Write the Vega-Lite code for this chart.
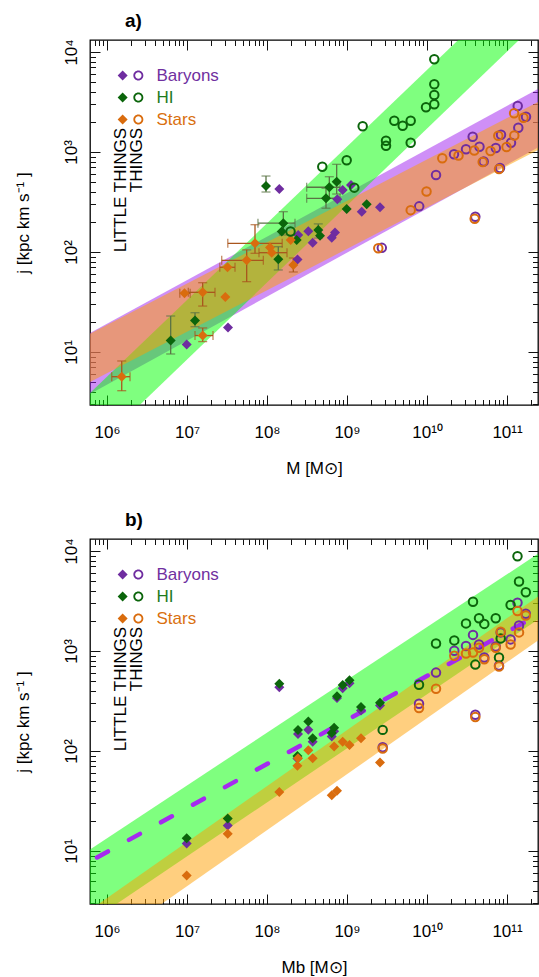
{
"$schema": "https://vega.github.io/schema/vega-lite/v6.json",
"autosize": "none",
"padding": {"left": 90, "top": 40, "right": 449, "bottom": 937},
"background": "white",
"config": {
  "font": "Liberation Sans",
  "view": {"stroke": "#000", "strokeWidth": 1.3},
  "axis": {"domain": false, "grid": false, "tickColor": "#111", "tickWidth": 1, "labelColor": "#000", "titleColor": "#000", "labelFont": "Liberation Sans", "titleFont": "Liberation Sans"}
},
"spacing": 134,
"bounds": "flush",
"resolve": {"scale": {"color": "independent"}},
"datasets": {
  "A": [
    {"comp":"Baryons","kind":"LT","M":1.426e8,"j":427},
    {"comp":"Baryons","kind":"LT","M":8.831e8,"j":417},
    {"comp":"Baryons","kind":"LT","M":1.122e9,"j":468},
    {"comp":"Baryons","kind":"LT","M":7.568e8,"j":337},
    {"comp":"Baryons","kind":"LT","M":1.528e9,"j":253},
    {"comp":"Baryons","kind":"LT","M":2.585e9,"j":280},
    {"comp":"Baryons","kind":"LT","M":3.281e8,"j":161},
    {"comp":"Baryons","kind":"LT","M":3.724e8,"j":124},
    {"comp":"Baryons","kind":"LT","M":7.079e8,"j":157},
    {"comp":"Baryons","kind":"LT","M":6.442e8,"j":139},
    {"comp":"Baryons","kind":"LT","M":2.404e8,"j":84.1},
    {"comp":"Baryons","kind":"LT","M":3.255e7,"j":17.6},
    {"comp":"Baryons","kind":"LT","M":9.908e6,"j":11.9},
    {"comp":"Baryons","kind":"LT","M":2.455e8,"j":148},
    {"comp":"HI","kind":"LT","M":9.716e7,"j":457,"jlo":398,"jhi":575},
    {"comp":"HI","kind":"LT","M":6.012e8,"j":444,"Mlo":3.133e8,"Mhi":8.175e8,"jlo":344,"jhi":566},
    {"comp":"HI","kind":"LT","M":7.43e8,"j":505,"jlo":380,"jhi":753},
    {"comp":"HI","kind":"LT","M":5.464e8,"j":344,"Mlo":3.133e8,"Mhi":8.175e8,"jlo":274,"jhi":434},
    {"comp":"HI","kind":"LT","M":9.908e8,"j":269},
    {"comp":"HI","kind":"LT","M":1.762e9,"j":300},
    {"comp":"HI","kind":"LT","M":1.6e8,"j":194,"Mlo":7.709e7,"Mhi":2.239e8,"jlo":148,"jhi":253},
    {"comp":"HI","kind":"LT","M":1.528e8,"j":160},
    {"comp":"HI","kind":"LT","M":4.375e8,"j":166,"jlo":138,"jhi":191},
    {"comp":"HI","kind":"LT","M":4.597e8,"j":145},
    {"comp":"HI","kind":"LT","M":2.35e8,"j":132},
    {"comp":"HI","kind":"LT","M":1.384e8,"j":84.5,"jlo":66.1,"jhi":113},
    {"comp":"HI","kind":"LT","M":1.259e7,"j":20.6,"jlo":17.9,"jhi":24.7},
    {"comp":"HI","kind":"LT","M":6.252e6,"j":13.0,"jlo":9.55,"jhi":22.9},
    {"comp":"Stars","kind":"LT","M":7.079e7,"j":122,"Mlo":3.236e7,"Mhi":1.549e8,"jlo":97,"jhi":187.5},
    {"comp":"Stars","kind":"LT","M":1.977e8,"j":132},
    {"comp":"Stars","kind":"LT","M":1.09e8,"j":111},
    {"comp":"Stars","kind":"LT","M":1.146e8,"j":98.4,"Mlo":7.94e7,"Mhi":1.778e8},
    {"comp":"Stars","kind":"LT","M":5.572e7,"j":82.6,"Mlo":2.716e7,"Mhi":9.0e7,"jlo":50.5,"jhi":105},
    {"comp":"Stars","kind":"LT","M":3.206e7,"j":70.3,"Mlo":2.57e7,"Mhi":3.98e7},
    {"comp":"Stars","kind":"LT","M":2.133e8,"j":74.1,"jlo":63.1,"jhi":87.1},
    {"comp":"Stars","kind":"LT","M":1.57e7,"j":39.5,"Mlo":1.038e7,"Mhi":2.239e7,"jlo":28.8,"jhi":49.3},
    {"comp":"Stars","kind":"LT","M":9.311e6,"j":38.6,"Mlo":8.13e6,"Mhi":1.096e7},
    {"comp":"Stars","kind":"LT","M":3.013e7,"j":35.5},
    {"comp":"Stars","kind":"LT","M":1.57e7,"j":14.6,"Mlo":1.259e7,"Mhi":2.113e7,"jlo":12.7,"jhi":17.4},
    {"comp":"Stars","kind":"LT","M":1.528e6,"j":5.66,"Mlo":1.146e6,"Mhi":1.94e6,"jlo":4.1,"jhi":8.13},
    {"comp":"Baryons","kind":"TH","M":1.361e11,"j":2884},
    {"comp":"Baryons","kind":"TH","M":1.728e11,"j":2254},
    {"comp":"Baryons","kind":"TH","M":1.384e11,"j":1750},
    {"comp":"Baryons","kind":"TH","M":3.724e10,"j":1422},
    {"comp":"Baryons","kind":"TH","M":8.414e10,"j":1489},
    {"comp":"Baryons","kind":"TH","M":1.122e11,"j":1239},
    {"comp":"Baryons","kind":"TH","M":4.529e10,"j":1130},
    {"comp":"Baryons","kind":"TH","M":3.073e10,"j":1064},
    {"comp":"Baryons","kind":"TH","M":7.244e10,"j":1096},
    {"comp":"Baryons","kind":"TH","M":2.175e10,"j":951},
    {"comp":"Baryons","kind":"TH","M":5.117e10,"j":804},
    {"comp":"Baryons","kind":"TH","M":1.296e10,"j":589},
    {"comp":"Baryons","kind":"TH","M":7.99e9,"j":286},
    {"comp":"Baryons","kind":"TH","M":4.018e10,"j":225},
    {"comp":"Baryons","kind":"TH","M":2.723e9,"j":110},
    {"comp":"Baryons","kind":"TH","M":8.175e10,"j":692},
    {"comp":"HI","kind":"TH","M":1.233e10,"j":8453},
    {"comp":"HI","kind":"TH","M":1.233e10,"j":4753},
    {"comp":"HI","kind":"TH","M":1.233e10,"j":3715},
    {"comp":"HI","kind":"TH","M":1.233e10,"j":2999},
    {"comp":"HI","kind":"TH","M":9.716e9,"j":2799},
    {"comp":"HI","kind":"TH","M":6.252e9,"j":2056},
    {"comp":"HI","kind":"TH","M":3.899e9,"j":2056},
    {"comp":"HI","kind":"TH","M":4.966e9,"j":1832},
    {"comp":"HI","kind":"TH","M":1.57e9,"j":1807},
    {"comp":"HI","kind":"TH","M":3.073e9,"j":1297},
    {"comp":"HI","kind":"TH","M":3.073e9,"j":1156},
    {"comp":"HI","kind":"TH","M":6.252e9,"j":1239},
    {"comp":"HI","kind":"TH","M":9.908e8,"j":826},
    {"comp":"HI","kind":"TH","M":4.909e8,"j":713},
    {"comp":"HI","kind":"TH","M":1.233e9,"j":440},
    {"comp":"HI","kind":"TH","M":1.968e8,"j":160},
    {"comp":"Stars","kind":"TH","M":1.227e11,"j":2438},
    {"comp":"Stars","kind":"TH","M":1.607e11,"j":2203},
    {"comp":"Stars","kind":"TH","M":1.233e11,"j":1462},
    {"comp":"Stars","kind":"TH","M":9.863e10,"j":1122},
    {"comp":"Stars","kind":"TH","M":7.78e10,"j":1455},
    {"comp":"Stars","kind":"TH","M":6.223e10,"j":1023},
    {"comp":"Stars","kind":"TH","M":3.899e10,"j":1035},
    {"comp":"Stars","kind":"TH","M":2.477e10,"j":923},
    {"comp":"Stars","kind":"TH","M":1.552e10,"j":865},
    {"comp":"Stars","kind":"TH","M":4.966e10,"j":794},
    {"comp":"Stars","kind":"TH","M":7.943e10,"j":676},
    {"comp":"Stars","kind":"TH","M":9.863e9,"j":403},
    {"comp":"Stars","kind":"TH","M":6.252e9,"j":262},
    {"comp":"Stars","kind":"TH","M":3.945e10,"j":215},
    {"comp":"Stars","kind":"TH","M":2.46e9,"j":109}
  ],
  "B": [
    {"comp":"Baryons","kind":"LT","M":1.426e8,"j":434.5},
    {"comp":"Baryons","kind":"LT","M":8.831e8,"j":424.6},
    {"comp":"Baryons","kind":"LT","M":1.074e9,"j":476.4},
    {"comp":"Baryons","kind":"LT","M":7.499e8,"j":338.8},
    {"comp":"Baryons","kind":"LT","M":1.496e9,"j":254},
    {"comp":"Baryons","kind":"LT","M":2.585e9,"j":285},
    {"comp":"Baryons","kind":"LT","M":3.281e8,"j":163.3},
    {"comp":"Baryons","kind":"LT","M":3.724e8,"j":123.9},
    {"comp":"Baryons","kind":"LT","M":6.9e8,"j":157.8},
    {"comp":"Baryons","kind":"LT","M":6.442e8,"j":139.3},
    {"comp":"Baryons","kind":"LT","M":2.399e8,"j":84.1},
    {"comp":"Baryons","kind":"LT","M":2.441e8,"j":148.3},
    {"comp":"Baryons","kind":"LT","M":3.228e7,"j":18.0},
    {"comp":"Baryons","kind":"LT","M":9.908e6,"j":11.9},
    {"comp":"HI","kind":"LT","M":1.426e8,"j":471},
    {"comp":"HI","kind":"LT","M":8.831e8,"j":457},
    {"comp":"HI","kind":"LT","M":1.074e9,"j":509},
    {"comp":"HI","kind":"LT","M":7.499e8,"j":353},
    {"comp":"HI","kind":"LT","M":1.496e9,"j":274.8},
    {"comp":"HI","kind":"LT","M":2.585e9,"j":303.4},
    {"comp":"HI","kind":"LT","M":3.281e8,"j":196.8},
    {"comp":"HI","kind":"LT","M":3.724e8,"j":134.3},
    {"comp":"HI","kind":"LT","M":6.9e8,"j":171},
    {"comp":"HI","kind":"LT","M":6.442e8,"j":151.7},
    {"comp":"HI","kind":"LT","M":2.399e8,"j":89.1},
    {"comp":"HI","kind":"LT","M":2.441e8,"j":162.6},
    {"comp":"HI","kind":"LT","M":3.228e7,"j":21.1},
    {"comp":"HI","kind":"LT","M":9.908e6,"j":13.4},
    {"comp":"Stars","kind":"LT","M":1.426e8,"j":39.0},
    {"comp":"Stars","kind":"LT","M":8.831e8,"j":124},
    {"comp":"Stars","kind":"LT","M":1.074e9,"j":114.8},
    {"comp":"Stars","kind":"LT","M":7.499e8,"j":40.1},
    {"comp":"Stars","kind":"LT","M":1.496e9,"j":134.3},
    {"comp":"Stars","kind":"LT","M":2.585e9,"j":76.9},
    {"comp":"Stars","kind":"LT","M":3.281e8,"j":101.9},
    {"comp":"Stars","kind":"LT","M":3.724e8,"j":84.5},
    {"comp":"Stars","kind":"LT","M":6.9e8,"j":110.9},
    {"comp":"Stars","kind":"LT","M":6.442e8,"j":36.1},
    {"comp":"Stars","kind":"LT","M":2.399e8,"j":71.1},
    {"comp":"Stars","kind":"LT","M":2.441e8,"j":84.5},
    {"comp":"Stars","kind":"LT","M":3.228e7,"j":14.9},
    {"comp":"Stars","kind":"LT","M":9.908e6,"j":5.68},
    {"comp":"Baryons","kind":"TH","M":2.793e9,"j":108.9},
    {"comp":"Baryons","kind":"TH","M":7.943e9,"j":296.5},
    {"comp":"Baryons","kind":"TH","M":1.296e10,"j":608},
    {"comp":"Baryons","kind":"TH","M":2.193e10,"j":1007},
    {"comp":"Baryons","kind":"TH","M":3.073e10,"j":1122},
    {"comp":"Baryons","kind":"TH","M":3.758e10,"j":1449},
    {"comp":"Baryons","kind":"TH","M":4.018e10,"j":230},
    {"comp":"Baryons","kind":"TH","M":4.467e10,"j":1161},
    {"comp":"Baryons","kind":"TH","M":5.2e10,"j":861},
    {"comp":"Baryons","kind":"TH","M":7.228e10,"j":1109},
    {"comp":"Baryons","kind":"TH","M":7.943e10,"j":714.5},
    {"comp":"Baryons","kind":"TH","M":8.337e10,"j":1535},
    {"comp":"Baryons","kind":"TH","M":1.109e11,"j":1306},
    {"comp":"Baryons","kind":"TH","M":1.352e11,"j":3034},
    {"comp":"Baryons","kind":"TH","M":1.413e11,"j":1803},
    {"comp":"Baryons","kind":"TH","M":1.718e11,"j":2355},
    {"comp":"HI","kind":"TH","M":2.793e9,"j":162.6},
    {"comp":"HI","kind":"TH","M":7.943e9,"j":460.3},
    {"comp":"HI","kind":"TH","M":1.296e10,"j":1189},
    {"comp":"HI","kind":"TH","M":2.193e10,"j":1276},
    {"comp":"HI","kind":"TH","M":3.073e10,"j":1888},
    {"comp":"HI","kind":"TH","M":3.758e10,"j":3105},
    {"comp":"HI","kind":"TH","M":4.018e10,"j":731},
    {"comp":"HI","kind":"TH","M":4.467e10,"j":2123},
    {"comp":"HI","kind":"TH","M":5.2e10,"j":1866},
    {"comp":"HI","kind":"TH","M":7.228e10,"j":2123},
    {"comp":"HI","kind":"TH","M":7.943e10,"j":861},
    {"comp":"HI","kind":"TH","M":8.337e10,"j":1337},
    {"comp":"HI","kind":"TH","M":1.109e11,"j":2884},
    {"comp":"HI","kind":"TH","M":1.352e11,"j":8851},
    {"comp":"HI","kind":"TH","M":1.413e11,"j":4955},
    {"comp":"HI","kind":"TH","M":1.718e11,"j":3873},
    {"comp":"Stars","kind":"TH","M":2.793e9,"j":105.9},
    {"comp":"Stars","kind":"TH","M":7.943e9,"j":268.5},
    {"comp":"Stars","kind":"TH","M":1.296e10,"j":419.8},
    {"comp":"Stars","kind":"TH","M":2.193e10,"j":895.4},
    {"comp":"Stars","kind":"TH","M":3.073e10,"j":944.1},
    {"comp":"Stars","kind":"TH","M":3.758e10,"j":966},
    {"comp":"Stars","kind":"TH","M":4.018e10,"j":218.3},
    {"comp":"Stars","kind":"TH","M":4.467e10,"j":1076},
    {"comp":"Stars","kind":"TH","M":5.2e10,"j":828},
    {"comp":"Stars","kind":"TH","M":7.228e10,"j":1076},
    {"comp":"Stars","kind":"TH","M":7.943e10,"j":698.2},
    {"comp":"Stars","kind":"TH","M":8.337e10,"j":1560},
    {"comp":"Stars","kind":"TH","M":1.109e11,"j":1161},
    {"comp":"Stars","kind":"TH","M":1.352e11,"j":2512},
    {"comp":"Stars","kind":"TH","M":1.413e11,"j":1535},
    {"comp":"Stars","kind":"TH","M":1.718e11,"j":2259}
  ],
  "bandsA": [
    {"band":"Baryons","M":5.012e5,"lo":3.48,"hi":14.2},
    {"band":"Baryons","M":3.162e11,"lo":1240,"hi":4775},
    {"band":"HI","M":5.012e5,"lo":0.839,"hi":3.33},
    {"band":"HI","M":3.162e11,"lo":24500,"hi":93600},
    {"band":"Stars","M":5.012e5,"lo":4.61,"hi":14.0},
    {"band":"Stars","M":3.162e11,"lo":1166,"hi":3523}
  ],
  "bandsB": [
    {"band":"HI","M":5.012e5,"lo":1.754,"hi":9.31},
    {"band":"HI","M":3.162e11,"lo":2377,"hi":10740},
    {"band":"Stars","M":5.012e5,"lo":0.832,"hi":2.296},
    {"band":"Stars","M":3.162e11,"lo":1472,"hi":4064}
  ],
  "dashB": [
    {"M":7.5e5,"j":8.61},
    {"M":3.162e11,"j":2570}
  ],
  "T": [
    {"label":"LITTLE THINGS","M":1.5e6,"j":1740},
    {"label":"THINGS","M":2.4e6,"j":1740}
  ]
},
"vconcat": [
  {
    "title": {"text": "a)", "anchor": "start", "frame": "group", "dx": 35, "offset": -7, "fontSize": 19, "fontWeight": "bold", "baseline": "alphabetic"},
    "width": 448, "height": 365,
    "encoding": {
      "x": {"field": "M", "type": "quantitative", "scale": {"type": "log", "domain": [613000, 2.44e11], "nice": false}, "axis": null},
      "y": {"field": "j", "type": "quantitative", "scale": {"type": "log", "domain": [2.95, 13183], "nice": false}, "axis": null}
    },
    "layer": [
      {"data": {"name": "bandsA"}, "transform": [{"filter": "datum.band=='Baryons'"}],
       "mark": {"type": "area", "clip": true, "color": "#A020F0", "opacity": 0.5},
       "encoding": {"y": {"field": "lo", "type": "quantitative", "scale": {"type": "log", "domain": [2.95, 13183], "nice": false}, "axis": null}, "y2": {"field": "hi"}}},
      {"data": {"name": "bandsA"}, "transform": [{"filter": "datum.band=='HI'"}],
       "mark": {"type": "area", "clip": true, "color": "#00FF00", "opacity": 0.5},
       "encoding": {"y": {"field": "lo", "type": "quantitative", "scale": {"type": "log", "domain": [2.95, 13183], "nice": false}, "axis": null}, "y2": {"field": "hi"}}},
      {"data": {"name": "bandsA"}, "transform": [{"filter": "datum.band=='Stars'"}],
       "mark": {"type": "area", "clip": true, "color": "#FFA000", "opacity": 0.5},
       "encoding": {"y": {"field": "lo", "type": "quantitative", "scale": {"type": "log", "domain": [2.95, 13183], "nice": false}, "axis": null}, "y2": {"field": "hi"}}},
      {"data": {"name": "A"}, "transform": [{"filter": "isValid(datum.jlo)"}],
       "mark": {"type": "errorbar", "ticks": true, "size": 9, "thickness": 1.3},
       "encoding": {"y": {"field": "jlo", "type": "quantitative", "scale": {"type": "log", "domain": [2.95, 13183], "nice": false}, "axis": null}, "y2": {"field": "jhi"},
         "color": {"condition": {"test": "datum.comp=='HI'", "value": "#5A7345"}, "value": "#A9561D"}}},
      {"data": {"name": "A"}, "transform": [{"filter": "isValid(datum.Mlo)"}],
       "mark": {"type": "errorbar", "ticks": true, "size": 9, "thickness": 1.3},
       "encoding": {"x": {"field": "Mlo", "type": "quantitative", "scale": {"type": "log", "domain": [613000, 2.44e11], "nice": false}, "axis": null}, "x2": {"field": "Mhi"},
         "color": {"condition": {"test": "datum.comp=='HI'", "value": "#5A7345"}, "value": "#A9561D"}}},
      {"data": {"name": "A"}, "transform": [{"filter": "datum.kind=='LT'"}],
       "mark": {"type": "point", "shape": "diamond", "filled": true, "size": 100, "opacity": 1, "strokeWidth": 0},
       "encoding": {
         "x": {"field": "M", "type": "quantitative", "scale": {"type": "log", "domain": [613000, 2.44e11], "nice": false},
           "axis": {"orient": "bottom", "values": [7e5,8e5,9e5,1e6,2e6,3e6,4e6,5e6,6e6,7e6,8e6,9e6,1e7,2e7,3e7,4e7,5e7,6e7,7e7,8e7,9e7,1e8,2e8,3e8,4e8,5e8,6e8,7e8,8e8,9e8,1e9,2e9,3e9,4e9,5e9,6e9,7e9,8e9,9e9,1e10,2e10,3e10,4e10,5e10,6e10,7e10,8e10,9e10,1e11,2e11],
             "labelExpr": "datum.value==1e6?'10⁶':datum.value==1e7?'10⁷':datum.value==1e8?'10⁸':datum.value==1e9?'10⁹':datum.value==1e10?'10¹⁰':datum.value==1e11?'10¹¹':''",
             "tickSize": {"condition": {"test": "abs(log(datum.value)/LN10-round(log(datum.value)/LN10))<0.001", "value": -10}, "value": -5.5},
             "labelBaseline": "alphabetic", "labelPadding": 42, "labelFontSize": 17, "labelOverlap": false, "labelFlush": false,
             "title": "M  [M⊙]", "titleFontSize": 17, "titleFontWeight": "normal", "titlePadding": 16}},
         "y": {"field": "j", "type": "quantitative", "scale": {"type": "log", "domain": [2.95, 13183], "nice": false},
           "axis": {"orient": "left", "values": [3,4,5,6,7,8,9,10,20,30,40,50,60,70,80,90,100,200,300,400,500,600,700,800,900,1000,2000,3000,4000,5000,6000,7000,8000,9000,10000],
             "labelExpr": "datum.value==10?'10¹':datum.value==100?'10²':datum.value==1000?'10³':datum.value==10000?'10⁴':''",
             "tickSize": {"condition": {"test": "abs(log(datum.value)/LN10-round(log(datum.value)/LN10))<0.001", "value": -10}, "value": -5.5},
             "labelAngle": 270, "labelAlign": "center", "labelBaseline": "alphabetic", "labelPadding": 24, "labelFontSize": 17, "labelOverlap": false, "labelFlush": false,
             "title": "j  [kpc km s⁻¹ ]", "titleFontSize": 17, "titleFontWeight": "normal", "titlePadding": 25}},
         "color": {"field": "comp", "type": "nominal", "scale": {"domain": ["Baryons", "HI", "Stars"], "range": ["#6F2DA0", "#0B650B", "#D96C0E"]},
           "legend": {"orient": "none", "legendX": 32, "legendY": 27, "title": null, "padding": 0,
             "symbolType": "M-2.57,0L-1.57,-1L-0.57,0L-1.57,1Z M2.57,0A1,1,0,1,0,0.57,0A1,1,0,1,0,2.57,0Z M2.21,0A0.64,0.64,0,1,1,0.93,0A0.64,0.64,0,1,1,2.21,0Z",
             "symbolSize": 100, "symbolStrokeWidth": 0, "symbolOpacity": 1, "labelFontSize": 17, "labelFont": "Liberation Sans", "labelOffset": 17.5, "rowPadding": 4, "labelLimit": 0,
             "labelColor": {"expr": "datum.label=='Baryons'?'#7030A0':datum.label=='HI'?'#1E7B1E':'#D9700F'"}}}
       }},
      {"data": {"name": "A"}, "transform": [{"filter": "datum.kind=='TH'"}],
       "mark": {"type": "point", "shape": "circle", "filled": false, "size": 72, "strokeWidth": 2, "opacity": 1},
       "encoding": {
         "x": {"field": "M", "type": "quantitative", "scale": {"type": "log", "domain": [613000, 2.44e11], "nice": false},
           "axis": {"orient": "top", "values": [7e5,8e5,9e5,1e6,2e6,3e6,4e6,5e6,6e6,7e6,8e6,9e6,1e7,2e7,3e7,4e7,5e7,6e7,7e7,8e7,9e7,1e8,2e8,3e8,4e8,5e8,6e8,7e8,8e8,9e8,1e9,2e9,3e9,4e9,5e9,6e9,7e9,8e9,9e9,1e10,2e10,3e10,4e10,5e10,6e10,7e10,8e10,9e10,1e11,2e11],
             "labels": false, "title": null,
             "tickSize": {"condition": {"test": "abs(log(datum.value)/LN10-round(log(datum.value)/LN10))<0.001", "value": -10}, "value": -5.5}}},
         "y": {"field": "j", "type": "quantitative", "scale": {"type": "log", "domain": [2.95, 13183], "nice": false},
           "axis": {"orient": "right", "values": [3,4,5,6,7,8,9,10,20,30,40,50,60,70,80,90,100,200,300,400,500,600,700,800,900,1000,2000,3000,4000,5000,6000,7000,8000,9000,10000],
             "labels": false, "title": null,
             "tickSize": {"condition": {"test": "abs(log(datum.value)/LN10-round(log(datum.value)/LN10))<0.001", "value": -10}, "value": -5.5}}},
         "color": {"field": "comp", "type": "nominal", "scale": {"domain": ["Baryons", "HI", "Stars"], "range": ["#6F2DA0", "#0B650B", "#D96C0E"]}, "legend": null}
       }},
      {"data": {"name": "T"},
       "mark": {"type": "text", "angle": 270, "align": "right", "baseline": "middle", "fontSize": 17, "font": "Liberation Sans", "color": "#000"},
       "encoding": {"text": {"field": "label"}}}
    ],
    "resolve": {"axis": {"x": "independent", "y": "independent"}}
  },
  {
    "title": {"text": "b)", "anchor": "start", "frame": "group", "dx": 35, "offset": -7, "fontSize": 19, "fontWeight": "bold", "baseline": "alphabetic"},
    "width": 448, "height": 365,
    "encoding": {
      "x": {"field": "M", "type": "quantitative", "scale": {"type": "log", "domain": [613000, 2.44e11], "nice": false}, "axis": null},
      "y": {"field": "j", "type": "quantitative", "scale": {"type": "log", "domain": [2.95, 13183], "nice": false}, "axis": null}
    },
    "layer": [
      {"data": {"name": "bandsB"}, "transform": [{"filter": "datum.band=='HI'"}],
       "mark": {"type": "area", "clip": true, "color": "#00FF00", "opacity": 0.5},
       "encoding": {"y": {"field": "lo", "type": "quantitative", "scale": {"type": "log", "domain": [2.95, 13183], "nice": false}, "axis": null}, "y2": {"field": "hi"}}},
      {"data": {"name": "bandsB"}, "transform": [{"filter": "datum.band=='Stars'"}],
       "mark": {"type": "area", "clip": true, "color": "#FFA000", "opacity": 0.5},
       "encoding": {"y": {"field": "lo", "type": "quantitative", "scale": {"type": "log", "domain": [2.95, 13183], "nice": false}, "axis": null}, "y2": {"field": "hi"}}},
      {"data": {"name": "dashB"},
       "mark": {"type": "line", "clip": true, "color": "#A52AF0", "strokeWidth": 4.5, "strokeDash": [12.5, 24], "strokeCap": "round"},
       "encoding": {"y": {"field": "j", "type": "quantitative", "scale": {"type": "log", "domain": [2.95, 13183], "nice": false}, "axis": null}}},
      {"data": {"name": "B"}, "transform": [{"filter": "datum.kind=='LT'"}],
       "mark": {"type": "point", "shape": "diamond", "filled": true, "size": 100, "opacity": 1, "strokeWidth": 0},
       "encoding": {
         "x": {"field": "M", "type": "quantitative", "scale": {"type": "log", "domain": [613000, 2.44e11], "nice": false},
           "axis": {"orient": "bottom", "values": [7e5,8e5,9e5,1e6,2e6,3e6,4e6,5e6,6e6,7e6,8e6,9e6,1e7,2e7,3e7,4e7,5e7,6e7,7e7,8e7,9e7,1e8,2e8,3e8,4e8,5e8,6e8,7e8,8e8,9e8,1e9,2e9,3e9,4e9,5e9,6e9,7e9,8e9,9e9,1e10,2e10,3e10,4e10,5e10,6e10,7e10,8e10,9e10,1e11,2e11],
             "labelExpr": "datum.value==1e6?'10⁶':datum.value==1e7?'10⁷':datum.value==1e8?'10⁸':datum.value==1e9?'10⁹':datum.value==1e10?'10¹⁰':datum.value==1e11?'10¹¹':''",
             "tickSize": {"condition": {"test": "abs(log(datum.value)/LN10-round(log(datum.value)/LN10))<0.001", "value": -10}, "value": -5.5},
             "labelBaseline": "alphabetic", "labelPadding": 42, "labelFontSize": 17, "labelOverlap": false, "labelFlush": false,
             "title": "Mb  [M⊙]", "titleFontSize": 17, "titleFontWeight": "normal", "titlePadding": 16}},
         "y": {"field": "j", "type": "quantitative", "scale": {"type": "log", "domain": [2.95, 13183], "nice": false},
           "axis": {"orient": "left", "values": [3,4,5,6,7,8,9,10,20,30,40,50,60,70,80,90,100,200,300,400,500,600,700,800,900,1000,2000,3000,4000,5000,6000,7000,8000,9000,10000],
             "labelExpr": "datum.value==10?'10¹':datum.value==100?'10²':datum.value==1000?'10³':datum.value==10000?'10⁴':''",
             "tickSize": {"condition": {"test": "abs(log(datum.value)/LN10-round(log(datum.value)/LN10))<0.001", "value": -10}, "value": -5.5},
             "labelAngle": 270, "labelAlign": "center", "labelBaseline": "alphabetic", "labelPadding": 24, "labelFontSize": 17, "labelOverlap": false, "labelFlush": false,
             "title": "j  [kpc km s⁻¹ ]", "titleFontSize": 17, "titleFontWeight": "normal", "titlePadding": 25}},
         "color": {"field": "comp", "type": "nominal", "scale": {"domain": ["Baryons", "HI", "Stars"], "range": ["#6F2DA0", "#0B650B", "#D96C0E"]},
           "legend": {"orient": "none", "legendX": 32, "legendY": 27, "title": null, "padding": 0,
             "symbolType": "M-2.57,0L-1.57,-1L-0.57,0L-1.57,1Z M2.57,0A1,1,0,1,0,0.57,0A1,1,0,1,0,2.57,0Z M2.21,0A0.64,0.64,0,1,1,0.93,0A0.64,0.64,0,1,1,2.21,0Z",
             "symbolSize": 100, "symbolStrokeWidth": 0, "symbolOpacity": 1, "labelFontSize": 17, "labelFont": "Liberation Sans", "labelOffset": 17.5, "rowPadding": 4, "labelLimit": 0,
             "labelColor": {"expr": "datum.label=='Baryons'?'#7030A0':datum.label=='HI'?'#1E7B1E':'#D9700F'"}}}
       }},
      {"data": {"name": "B"}, "transform": [{"filter": "datum.kind=='TH'"}],
       "mark": {"type": "point", "shape": "circle", "filled": false, "size": 72, "strokeWidth": 2, "opacity": 1},
       "encoding": {
         "x": {"field": "M", "type": "quantitative", "scale": {"type": "log", "domain": [613000, 2.44e11], "nice": false},
           "axis": {"orient": "top", "values": [7e5,8e5,9e5,1e6,2e6,3e6,4e6,5e6,6e6,7e6,8e6,9e6,1e7,2e7,3e7,4e7,5e7,6e7,7e7,8e7,9e7,1e8,2e8,3e8,4e8,5e8,6e8,7e8,8e8,9e8,1e9,2e9,3e9,4e9,5e9,6e9,7e9,8e9,9e9,1e10,2e10,3e10,4e10,5e10,6e10,7e10,8e10,9e10,1e11,2e11],
             "labels": false, "title": null,
             "tickSize": {"condition": {"test": "abs(log(datum.value)/LN10-round(log(datum.value)/LN10))<0.001", "value": -10}, "value": -5.5}}},
         "y": {"field": "j", "type": "quantitative", "scale": {"type": "log", "domain": [2.95, 13183], "nice": false},
           "axis": {"orient": "right", "values": [3,4,5,6,7,8,9,10,20,30,40,50,60,70,80,90,100,200,300,400,500,600,700,800,900,1000,2000,3000,4000,5000,6000,7000,8000,9000,10000],
             "labels": false, "title": null,
             "tickSize": {"condition": {"test": "abs(log(datum.value)/LN10-round(log(datum.value)/LN10))<0.001", "value": -10}, "value": -5.5}}},
         "color": {"field": "comp", "type": "nominal", "scale": {"domain": ["Baryons", "HI", "Stars"], "range": ["#6F2DA0", "#0B650B", "#D96C0E"]}, "legend": null}
       }},
      {"data": {"name": "T"},
       "mark": {"type": "text", "angle": 270, "align": "right", "baseline": "middle", "fontSize": 17, "font": "Liberation Sans", "color": "#000"},
       "encoding": {"text": {"field": "label"}}}
    ],
    "resolve": {"axis": {"x": "independent", "y": "independent"}}
  }
]
}
